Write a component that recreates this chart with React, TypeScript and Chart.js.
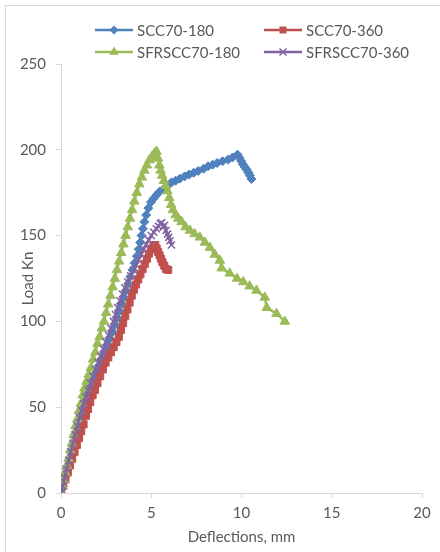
import { useEffect, useRef } from "react";
import { Chart, registerables } from "chart.js";
Chart.register(...registerables);

const FONT = "Lato, 'Liberation Sans', sans-serif";
const TEXT = "#595959";
const AXIS = "#D9D9D9";

const seriesLabels = ["SCC70-180", "SCC70-360", "SFRSCC70-180", "SFRSCC70-360"];
const seriesColors = ["#4F81BD", "#C0504D", "#9BBB59", "#8064A2"];
const seriesMarkers = ["rectRot", "rect", "triangle", "crossRot"];

const xTicks = [0, 5, 10, 15, 20];
const yTicks = [0, 50, 100, 150, 200, 250];

// SCC70-180
const scc180X = [0, 0.1, 0.2, 0.32, 0.44, 0.56, 0.68, 0.8, 0.93, 1.06, 1.2, 1.34, 1.48, 1.62, 1.78, 1.94, 2.1, 2.26, 2.42, 2.58, 2.72, 2.86, 3.0, 3.12, 3.24, 3.36, 3.48, 3.6, 3.72, 3.84, 3.96, 4.08, 4.2, 4.3, 4.38, 4.46, 4.54, 4.62, 4.72, 4.84, 4.98, 5.12, 5.28, 5.45, 5.66, 5.9, 6.12, 6.35, 6.59, 6.85, 7.1, 7.35, 7.6, 7.9, 8.15, 8.4, 8.65, 8.95, 9.26, 9.5, 9.78, 9.88, 9.98, 10.08, 10.18, 10.28, 10.38, 10.46, 10.55];
const scc180Y = [0, 4, 9, 14, 19, 24, 29, 34, 39, 44, 49, 54, 58, 62, 66, 70, 74, 78, 82, 86, 90, 94, 98, 102, 106, 110, 114, 118, 122, 126, 130, 134, 138, 142, 146, 150, 154, 158, 162, 166, 169.5, 171.5, 173.5, 175.5, 177, 179, 181, 182, 183.2, 184.5, 185.6, 186.6, 187.7, 189, 190.4, 191.3, 192.3, 193.3, 194.3, 195.5, 197.2, 195.5, 193.5, 191.5, 190, 188.5, 186.8, 185, 183];

// SCC70-360
const scc360X = [0, 0.12, 0.25, 0.38, 0.5, 0.62, 0.75, 0.88, 1.0, 1.12, 1.25, 1.38, 1.5, 1.62, 1.75, 1.88, 2.02, 2.17, 2.32, 2.47, 2.62, 2.77, 2.92, 3.07, 3.2, 3.32, 3.44, 3.56, 3.68, 3.8, 3.92, 4.04, 4.16, 4.28, 4.4, 4.52, 4.64, 4.76, 4.88, 5.0, 5.12, 5.22, 5.3, 5.38, 5.46, 5.54, 5.62, 5.72, 5.82, 5.94];
const scc360Y = [0, 4, 8, 12, 16, 20, 24, 28, 32, 36, 40, 45, 49, 53, 57, 60, 64, 68, 72, 76, 79, 82, 85, 88, 91, 95, 99, 103, 107, 111, 115, 118.5, 121.5, 124.5, 127.5, 130.5, 133.5, 136.5, 139.5, 142, 144, 144.5, 142.5, 140.5, 138.5, 136.5, 134.5, 132.5, 130.5, 130];

// SFRSCC70-180
const sfr180X = [0, 0.08, 0.16, 0.24, 0.33, 0.42, 0.51, 0.6, 0.7, 0.8, 0.9, 1.0, 1.1, 1.2, 1.3, 1.42, 1.54, 1.66, 1.78, 1.9, 2.02, 2.14, 2.26, 2.38, 2.5, 2.62, 2.74, 2.86, 2.98, 3.1, 3.22, 3.34, 3.46, 3.58, 3.7, 3.82, 3.94, 4.06, 4.2, 4.34, 4.48, 4.62, 4.76, 4.9, 5.04, 5.18, 5.3, 5.38, 5.45, 5.52, 5.6, 5.7, 5.8, 5.9, 6.0, 6.1, 6.2, 6.35, 6.5, 6.68, 6.9, 7.14, 7.4, 7.69, 7.97, 8.25, 8.52, 8.8, 8.9, 9.35, 9.75, 10.1, 10.45, 10.83, 11.29, 11.4, 11.94, 12.4];
const sfr180Y = [0, 4, 8, 12, 16, 20, 25, 29, 34, 39, 43, 48, 52, 57, 61, 65, 69, 73, 78, 82, 87, 91, 96, 100, 105, 110, 115, 120, 125, 130, 135, 140, 145, 150, 155, 160, 165, 170, 175, 180, 184, 188, 191, 194, 196, 198, 199, 195, 191, 188, 185, 182, 179, 176, 172, 168, 165, 162, 160, 158, 155, 153, 151, 149, 146, 143, 139, 135.5, 131, 128, 125, 123, 120.5, 118, 114, 108, 104.5, 100];

// SFRSCC70-360
const sfr360X = [0, 0.1, 0.2, 0.3, 0.42, 0.54, 0.66, 0.78, 0.9, 1.02, 1.14, 1.26, 1.38, 1.5, 1.64, 1.78, 1.92, 2.06, 2.2, 2.34, 2.48, 2.62, 2.76, 2.9, 3.02, 3.14, 3.26, 3.4, 3.54, 3.7, 3.86, 4.02, 4.16, 4.3, 4.44, 4.58, 4.72, 4.86, 5.0, 5.14, 5.28, 5.4, 5.5, 5.58, 5.66, 5.74, 5.82, 5.9, 5.97, 6.04, 6.12];
const sfr360Y = [0, 4, 9, 14, 19, 24, 29, 34, 39, 44, 48, 52, 56, 60, 64, 68, 72, 76, 80, 84, 88, 92, 96, 100, 104, 108, 112, 116, 119.5, 123, 126.5, 130, 133, 136, 139, 142, 145, 147.5, 150, 152, 154, 155.5, 157, 157.5, 155, 156, 153, 151, 149, 147, 144.5];

const seriesX = [scc180X, scc360X, sfr180X, sfr360X];
const seriesY = [scc180Y, scc360Y, sfr180Y, sfr360Y];

function marker(ctx: CanvasRenderingContext2D, style: string, x: number, y: number, color: string) {
  ctx.save();
  ctx.fillStyle = color;
  ctx.strokeStyle = color;
  ctx.lineWidth = 1;
  ctx.beginPath();
  if (style === "rectRot") {
    const r = 4.5;
    ctx.moveTo(x, y - r); ctx.lineTo(x + r, y); ctx.lineTo(x, y + r); ctx.lineTo(x - r, y); ctx.closePath();
    ctx.fill();
  } else if (style === "rect") {
    const s = 3.5;
    ctx.rect(x - s, y - s, 2 * s, 2 * s);
    ctx.fill();
  } else if (style === "triangle") {
    const r = 5.5;
    ctx.moveTo(x, y - r); ctx.lineTo(x + r * 0.866, y + r * 0.5); ctx.lineTo(x - r * 0.866, y + r * 0.5); ctx.closePath();
    ctx.fill();
  } else {
    const r = 3.5;
    ctx.lineWidth = 1.5;
    ctx.moveTo(x - r, y - r); ctx.lineTo(x + r, y + r);
    ctx.moveTo(x + r, y - r); ctx.lineTo(x - r, y + r);
    ctx.stroke();
  }
  ctx.restore();
}

const framePlugin = {
  id: "frame",
  beforeDraw(chart: any) {
    const ctx = chart.ctx as CanvasRenderingContext2D;
    ctx.save();
    ctx.fillStyle = "#ffffff";
    ctx.fillRect(0, 0, chart.width, chart.height);
    ctx.strokeStyle = AXIS;
    ctx.lineWidth = 1;
    ctx.beginPath();
    ctx.moveTo(5.5, chart.height + 5);
    ctx.lineTo(5.5, 5.5);
    ctx.lineTo(chart.width + 5, 5.5);
    ctx.stroke();
    ctx.restore();
  },
  afterDraw(chart: any) {
    const ctx = chart.ctx as CanvasRenderingContext2D;
    const slots = [
      { x: 95, y: 30 },
      { x: 264, y: 30 },
      { x: 95, y: 52 },
      { x: 264, y: 52 },
    ];
    ctx.save();
    ctx.font = `15px ${FONT}`;
    ctx.textBaseline = "middle";
    ctx.textAlign = "left";
    slots.forEach((s, i) => {
      ctx.strokeStyle = seriesColors[i];
      ctx.lineWidth = 2.5;
      ctx.beginPath();
      ctx.moveTo(s.x, s.y);
      ctx.lineTo(s.x + 38, s.y);
      ctx.stroke();
      marker(ctx, seriesMarkers[i], s.x + 19, s.y, seriesColors[i]);
      ctx.fillStyle = TEXT;
      ctx.fillText(seriesLabels[i], s.x + 42, s.y + 1);
    });
    ctx.restore();
  },
};

export default function App() {
  const ref = useRef<HTMLCanvasElement>(null);
  useEffect(() => {
    document.body.style.margin = "0";
    const datasets = seriesLabels.map((label, i) => ({
      label,
      data: seriesX[i].map((x, j) => ({ x, y: seriesY[i][j] })),
      showLine: true,
      borderColor: seriesColors[i],
      backgroundColor: seriesColors[i],
      borderWidth: 2.5,
      pointStyle: seriesMarkers[i] as any,
      pointRadius: i === 0 ? 4.5 : i === 1 ? 5 : i === 2 ? 5.5 : 5,
      pointBorderWidth: i === 3 ? 1.5 : 1,
      pointBorderColor: seriesColors[i],
      pointBackgroundColor: seriesColors[i],
      order: 3 - i,
    }));
    const chart = new Chart(ref.current!, {
      type: "scatter",
      data: { datasets },
      options: {
        animation: false,
        responsive: false,
        devicePixelRatio: 1,
        layout: { padding: { left: 10, right: 18, top: 64, bottom: 0 } },
        plugins: { legend: { display: false }, tooltip: { enabled: false } },
        scales: {
          x: {
            type: "linear",
            min: 0,
            max: 20,
            afterBuildTicks: (s: any) => { s.ticks = xTicks.map((v) => ({ value: v })); },
            afterFit: (s: any) => { s.height = 59; },
            grid: { display: true, drawOnChartArea: false, drawTicks: true, tickLength: 5, color: AXIS },
            border: { display: true, color: AXIS, width: 1 },
            ticks: { color: TEXT, font: { family: FONT, size: 15 }, padding: 6, maxRotation: 0 },
            title: { display: true, text: "Deflections, mm", color: TEXT, font: { family: FONT, size: 15 }, padding: { top: 0, bottom: 6 } },
          },
          y: {
            type: "linear",
            min: 0,
            max: 250,
            afterBuildTicks: (s: any) => { s.ticks = yTicks.map((v) => ({ value: v })); },
            afterFit: (s: any) => { s.width = 51; },
            grid: { display: true, drawOnChartArea: false, drawTicks: true, tickLength: 5, color: AXIS },
            border: { display: true, color: AXIS, width: 1 },
            ticks: { color: TEXT, font: { family: FONT, size: 15 }, padding: 10 },
            title: { display: true, text: "Load Kn", color: TEXT, font: { family: FONT, size: 15 }, padding: { top: 9, bottom: 0 } },
          },
        },
      },
      plugins: [framePlugin],
    });
    return () => chart.destroy();
  }, []);
  return (
    <div style={{ width: 440, height: 552 }}>
      <canvas ref={ref} width={440} height={552} style={{ display: "block" }} />
    </div>
  );
}
